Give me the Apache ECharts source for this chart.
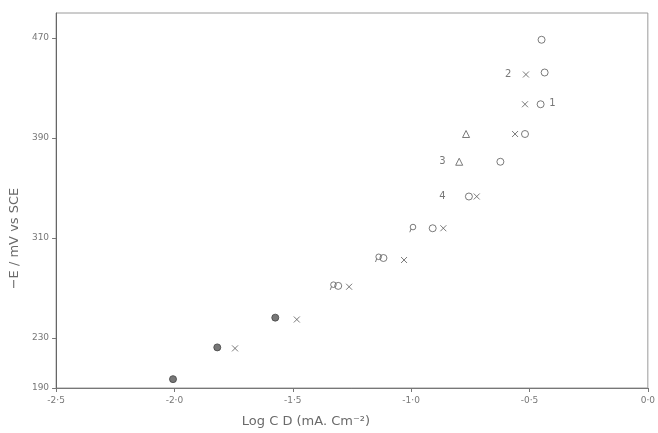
<!DOCTYPE html>
<html>
<head>
<meta charset="utf-8">
<script src="https://cdn.jsdelivr.net/npm/echarts@6/dist/echarts.min.js"></script>
<style>
html,body{margin:0;padding:0;background:#fff;}
#chart{width:658px;height:433px;}
</style>
</head>
<body>
<div id="chart"></div>
<script>
// ---- data (Log current density, -E / mV vs SCE) ----
const xTicks = [-2.5, -2.0, -1.5, -1.0, -0.5, 0];
const yTickLabels = [190, 230, 310, 390, 470];

// curve 1 (open circles)
const s1X = [-1.308, -1.117, -0.909, -0.756, -0.623, -0.519, -0.453, -0.436, -0.449];
const s1Y = [271.7, 294.0, 317.8, 343.2, 371.0, 393.2, 417.0, 442.4, 468.6];
// curve 2 (crosses)
const s2X = [-1.744, -1.483, -1.262, -1.030, -0.864, -0.723, -0.561, -0.519, -0.515];
const s2Y = [221.7, 244.8, 271.0, 292.4, 317.8, 343.2, 393.2, 417.0, 440.8];
// curve 3 (triangles)
const s3X = [-0.797, -0.768];
const s3Y = [371.0, 393.2];
// curve 4 (tailed circles)
const s4X = [-1.329, -1.138, -0.993];
const s4Y = [271.7, 294.0, 317.8];
// coincident points (filled)
const s0X = [-2.006, -1.819, -1.574];
const s0Y = [197.1, 222.5, 246.3];
// curve labels
const curveNames = ['1', '2', '3', '4'];
const curveLabelX = [-0.403, -0.590, -0.868, -0.868];
const curveLabelY = [418, 441, 371, 343];

const zip = (xs, ys) => xs.map((x, i) => [x, ys[i]]);
const ink = '#5a5a5a';
const crossPath = 'path://M0,0L10,10M10,0L0,10';
const tailPath = 'path://M9,4.5A3.5,3.5 0 1 1 2,4.5A3.5,3.5 0 1 1 9,4.5ZM3,7L1.5,11';
const hollow = {color: 'rgba(0,0,0,0)', borderColor: ink, borderWidth: 1};

const chart = echarts.init(document.getElementById('chart'), null, {renderer: 'canvas'});
chart.setOption({
  backgroundColor: '#ffffff',
  animation: false,
  grid: {left: 55, right: 1, top: 13, bottom: 42, show: true, borderColor: '#9a9a9a', borderWidth: 1},
  xAxis: {
    type: 'value', min: -2.5, max: 0, interval: 0.5,
    name: 'Log C D (mA. Cm\u207B\u00B2)', nameLocation: 'middle', nameGap: 27,
    nameTextStyle: {color: '#6a6a6a', fontSize: 13, fontFamily: 'DejaVu Sans', padding: [0, 92, 0, 0]},
    axisLine: {onZero: false, lineStyle: {color: '#777', width: 1}},
    axisTick: {show: true, length: 4, lineStyle: {color: '#777'}},
    axisLabel: {color: '#777', fontSize: 9, fontFamily: 'DejaVu Sans', margin: 8,
      formatter: v => v.toFixed(1).replace('.', '\u00B7')},
    splitLine: {show: false}
  },
  yAxis: {
    type: 'value', min: 190, max: 490,
    name: '\u2212E / mV vs SCE', nameLocation: 'middle', nameGap: 35, nameRotate: 90,
    nameTextStyle: {color: '#6a6a6a', fontSize: 13, fontFamily: 'DejaVu Sans', padding: [0, 76, 0, 0]},
    axisLine: {show: true, onZero: false, lineStyle: {color: '#666', width: 1}},
    axisTick: {show: true, length: 4, customValues: yTickLabels, lineStyle: {color: '#777'}},
    axisLabel: {color: '#777', fontSize: 9, fontFamily: 'DejaVu Sans', margin: 7, customValues: yTickLabels},
    splitLine: {show: false}
  },
  series: [
    {name: 'coincident', type: 'scatter', symbol: 'circle', symbolSize: 7,
     itemStyle: {color: '#555', borderColor: '#444', borderWidth: 1}, data: zip(s0X, s0Y)},
    {name: '1', type: 'scatter', symbol: 'circle', symbolSize: 7, itemStyle: hollow, data: zip(s1X, s1Y)},
    {name: '2', type: 'scatter', symbol: crossPath, symbolSize: 6, itemStyle: hollow, data: zip(s2X, s2Y)},
    {name: '3', type: 'scatter', symbol: 'triangle', symbolSize: 7, itemStyle: hollow, data: zip(s3X, s3Y)},
    {name: '4', type: 'scatter', symbol: tailPath, symbolSize: 8, symbolKeepAspect: true, itemStyle: hollow, data: zip(s4X, s4Y)},
    {name: 'labels', type: 'scatter', symbol: 'circle', symbolSize: 2, silent: true,
     itemStyle: {color: 'rgba(0,0,0,0)', borderWidth: 0},
     label: {show: true, position: 'inside', color: '#555', fontSize: 10, fontFamily: 'DejaVu Sans',
       formatter: p => curveNames[p.dataIndex]},
     data: zip(curveLabelX, curveLabelY)}
  ]
});
</script>
</body>
</html>
